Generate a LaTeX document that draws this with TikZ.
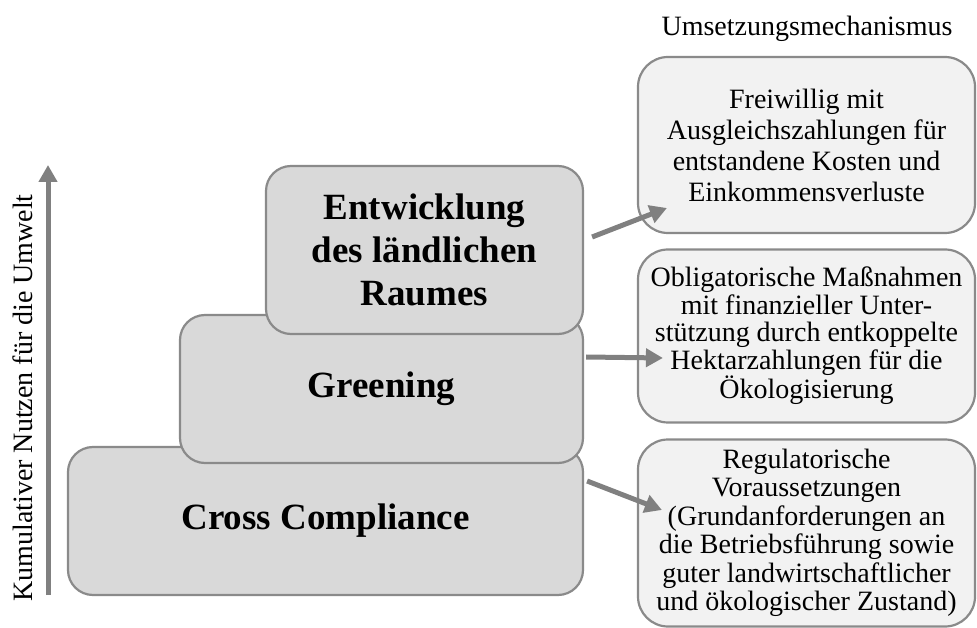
\documentclass[tikz,border=0pt]{standalone}
\usepackage{fontspec}
\setmainfont{Liberation Serif}
\usetikzlibrary{calc,arrows.meta}
\definecolor{levelfill}{HTML}{D9D9D9}
\definecolor{mechfill}{HTML}{F2F2F2}
\definecolor{edgegray}{HTML}{8A8A8A}
\definecolor{arrowgray}{HTML}{808080}
\tikzset{
  level box/.style={draw=edgegray,line width=2.2pt,fill=levelfill,rounded corners=25pt,inner sep=0pt,align=center,font=\fontsize{37}{43}\selectfont\bfseries},
  mechanism box/.style={draw=edgegray,line width=2.2pt,fill=mechfill,rounded corners=30pt,inner sep=0pt,align=center,minimum width=337pt,font=\fontsize{28}{29}\selectfont},
  benefit arrow/.style={line width=5pt,arrowgray,-{Triangle[length=17pt,width=18pt]}},
  >=Stealth,
}
\begin{document}
\begin{tikzpicture}[x=1pt,y=1pt]
\useasboundingbox (0,0) rectangle (977,627);
% stacked levels
\node[level box,minimum width=515pt,minimum height=148pt] (cc) at (325.5,106) {Cross Compliance};
\node[level box,minimum width=403pt,minimum height=148pt] (green) at (381.5,238) {Greening};
\node[level box,minimum width=317pt,minimum height=168pt] (rural) at (424.5,377) {Entwicklung\\des ländlichen\\Raumes};
% mechanisms
\node[font=\fontsize{28}{29}\selectfont] (head) at (807,598) {Umsetzungsmechanismus};
\node[mechanism box,minimum height=176pt,font=\fontsize{28}{31}\selectfont] (mvol) at (806.5,482) {Freiwillig mit\\Ausgleichszahlungen für\\entstandene Kosten und\\Einkommensverluste};
\node[mechanism box,minimum height=173pt,font=\fontsize{28}{27.5}\selectfont] (mobl) at (806.5,291) {Obligatorische Maßnahmen\\mit finanzieller Unter-\\stützung durch entkoppelte\\Hektarzahlungen für die\\Ökologisierung};
\node[mechanism box,minimum height=187pt,font=\fontsize{28}{28.5}\selectfont] (mreg) at (806.5,94) {Regulatorische\\Voraussetzungen\\(Grundanforderungen an\\die Betriebsführung sowie\\guter landwirtschaftlicher\\und ökologischer Zustand)};
% axis
\coordinate (axbot) at (48,32);
\coordinate (axtop) at (48,462);
\draw[benefit arrow] (axbot) -- (axtop);
\node[rotate=90,font=\fontsize{28}{29}\selectfont] (axlabel) at (23,229) {Kumulativer Nutzen für die Umwelt};
% links
\draw[benefit arrow] ($(rural.east)+(8,13)$) -- ($(mvol.west)+(30,-63)$);
\draw[benefit arrow] ($(green.east)+(2,32)$) -- ($(mobl.west)+(26,-22)$);
\draw[benefit arrow] ($(cc.east)+(3,40)$) -- ($(mreg.west)+(25,23)$);
\end{tikzpicture}
\end{document}
